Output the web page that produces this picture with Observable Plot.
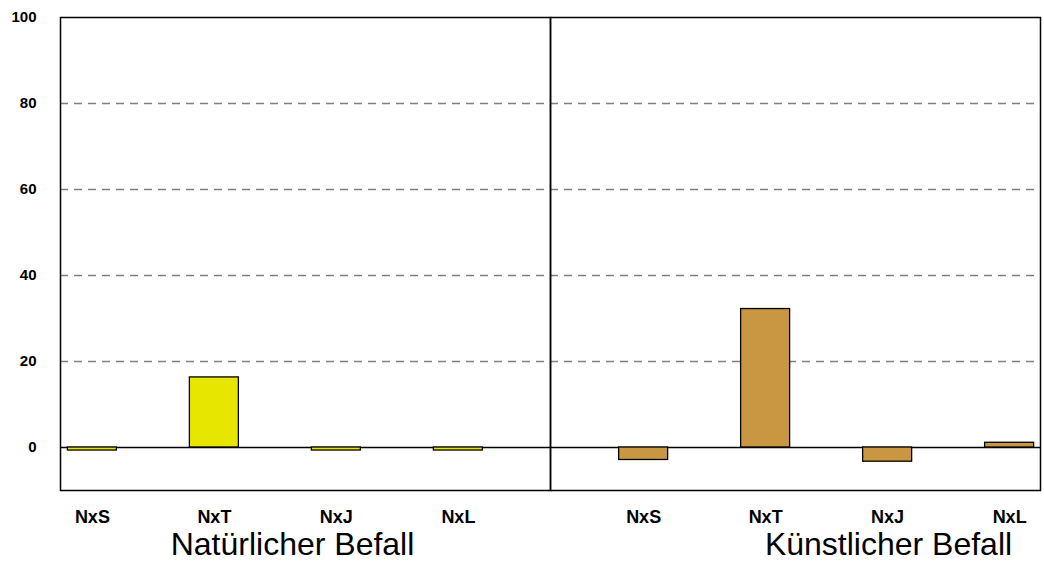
<!DOCTYPE html>
<html>
<head>
<meta charset="utf-8">
<script src="https://cdn.jsdelivr.net/npm/d3@7"></script>
<script src="https://cdn.jsdelivr.net/npm/@observablehq/plot@0.6"></script>
<style>
  html, body { margin: 0; padding: 0; background: #fff; }
  svg { display: block; font-family: "Liberation Sans", Arial, sans-serif; }
</style>
</head>
<body>
<div id="chart"></div>
<script>
const categories = ["NxS", "NxT", "NxJ", "NxL"];
const groups = ["Natürlicher Befall", "Künstlicher Befall"];
const natural = [-0.7, 16.3, -0.7, -0.7];
const artificial = [-2.9, 32.2, -3.3, 1.1];
const yTicks = [0, 20, 40, 60, 80, 100];
const gridValues = [20, 40, 60, 80];
const colors = ["#E6E600", "#C99741"];

const W = 1044, H = 567;
const mL = 60, mR = 4, mT = 17, mB = 77;
const facetW = (W - mL - mR) / groups.length;
const step = facetW / categories.length;
const shift = step / 4;

const natData = categories.map((c, i) => ({cat: c, value: natural[i], group: groups[0]}));
const artData = categories.map((c, i) => ({cat: c, value: artificial[i], group: groups[1]}));
const labelData = groups.flatMap(g => categories.map(c => ({cat: c, group: g})));

const plot = Plot.plot({
  width: W,
  height: H,
  marginLeft: mL,
  marginRight: mR,
  marginTop: mT,
  marginBottom: mB,
  style: {fontFamily: "'Liberation Sans', Arial, sans-serif", background: "#fff"},
  fx: {domain: groups, padding: 0, axis: null, label: null},
  x: {domain: categories, paddingInner: 0.6, paddingOuter: 0.3, axis: null, label: null},
  y: {domain: [-10, 100], axis: null, label: null},
  marks: [
    Plot.gridY(gridValues, {stroke: "#7f7f7f", strokeOpacity: 1, strokeWidth: 1.3, strokeDasharray: "8,6"}),
    Plot.ruleY([0], {stroke: "#000", strokeWidth: 1.3}),
    Plot.barY(natData, {x: "cat", y: "value", fx: "group", fill: colors[0], stroke: "#000", strokeWidth: 1.3, dx: -shift}),
    Plot.barY(artData, {x: "cat", y: "value", fx: "group", fill: colors[1], stroke: "#000", strokeWidth: 1.3, dx: shift}),
    Plot.frame({stroke: "#000", strokeWidth: 1.5}),
    Plot.axisY(yTicks, {facetAnchor: "left", anchor: "left", label: null, tickSize: 0, tickPadding: 24, fontSize: 15, fontWeight: "bold", fill: "#000"}),
    Plot.text(labelData.filter(d => d.group === groups[0]), {x: "cat", fx: "group", text: "cat", frameAnchor: "bottom", lineAnchor: "middle", dy: 26.5, dx: -shift, fontSize: 18, fontWeight: "bold", fill: "#000"}),
    Plot.text(labelData.filter(d => d.group === groups[1]), {x: "cat", fx: "group", text: "cat", frameAnchor: "bottom", lineAnchor: "middle", dy: 26.5, dx: shift, fontSize: 18, fontWeight: "bold", fill: "#000"}),
    Plot.text([groups[0]], {fx: d => d, text: d => d, frameAnchor: "bottom", lineAnchor: "middle", dy: 54.5, dx: -13, fontSize: 32, fill: "#000"}),
    Plot.text([groups[1]], {fx: d => d, text: d => d, frameAnchor: "bottom", lineAnchor: "middle", dy: 54.5, dx: 93, fontSize: 32, fill: "#000"})
  ]
});
document.getElementById("chart").appendChild(plot);
</script>
</body>
</html>
